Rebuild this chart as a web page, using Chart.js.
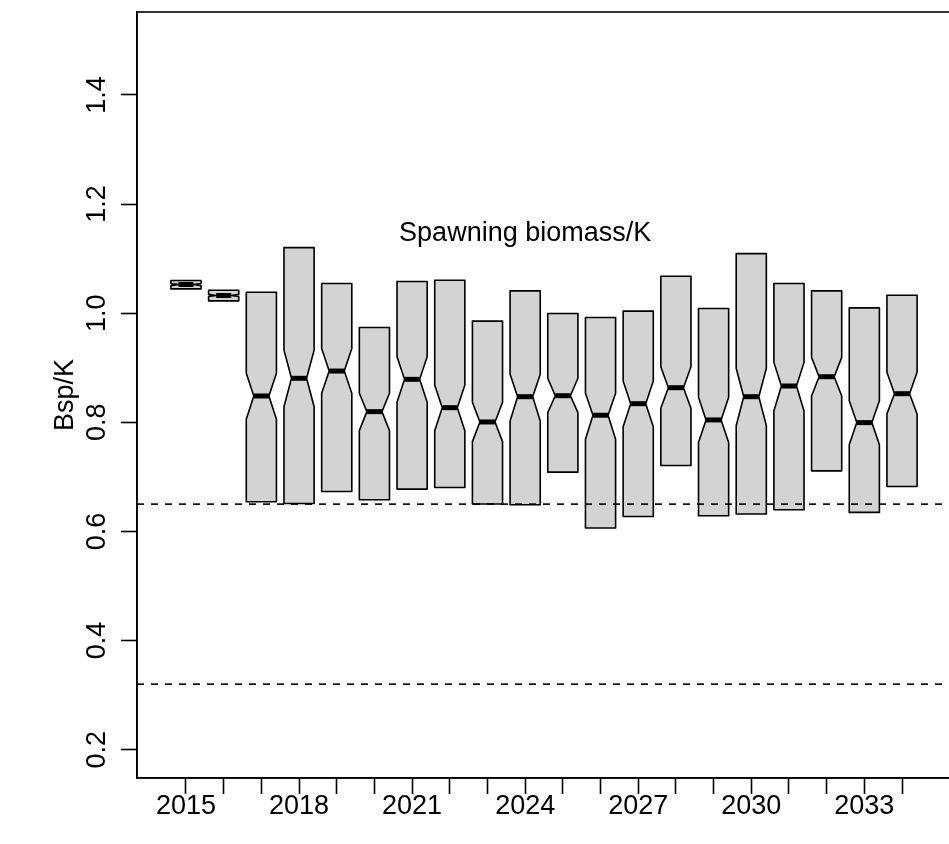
<!DOCTYPE html>
<html><head><meta charset="utf-8">
<script src="https://cdn.jsdelivr.net/npm/chart.js@4/dist/chart.umd.min.js"></script>
<style>html,body{margin:0;padding:0;overflow:hidden;background:#fff}#wrap{width:951px;height:844px}</style>
</head><body><div id="wrap"><canvas id="c" width="951" height="844"></canvas></div>
<script>
const years = [2015,2016,2017,2018,2019,2020,2021,2022,2023,2024,2025,2026,2027,2028,2029,2030,2031,2032,2033,2034];
const boxLow   = [1.0445,1.0225,0.6543,0.6512,0.6732,0.6580,0.6775,0.6805,0.6501,0.6488,0.7086,0.6062,0.6274,0.7207,0.6287,0.6318,0.6397,0.7110,0.6348,0.6823];
const notchLow = [1.0505,1.0304,0.8056,0.8286,0.8531,0.7847,0.8367,0.7847,0.7646,0.8025,0.8177,0.7690,0.7920,0.8257,0.7628,0.7939,0.8208,0.8482,0.7586,0.8153];
const medians  = [1.0525,1.0324,0.8482,0.8806,0.8939,0.8195,0.8787,0.8268,0.8006,0.8469,0.8487,0.8129,0.8341,0.8634,0.8043,0.8469,0.8665,0.8835,0.7994,0.8524];
const notchHigh= [1.0545,1.0344,0.8897,0.9323,0.9354,0.8531,0.9200,0.8683,0.8367,0.8879,0.8806,0.8531,0.8756,0.9018,0.8458,0.8989,0.9098,0.9190,0.8396,0.8915];
const boxHigh  = [1.0600,1.0420,1.0384,1.1202,1.0543,0.9738,1.0580,1.0604,0.9854,1.0408,0.9994,0.9921,1.0037,1.0677,1.0086,1.1092,1.0543,1.0408,1.0097,1.0329];
const yTicks = [0.2,0.4,0.6,0.8,1.0,1.2,1.4];
const yTickLabels = ['0.2','0.4','0.6','0.8','1.0','1.2','1.4'];
const refLines = [0.65, 0.32];
const titleText = 'Spawning biomass/K';
const titlePos = {x: 9, y: 1.15};
const yAxisTitle = 'Bsp/K';

const FONT = "'Liberation Sans', Arial, Helvetica, sans-serif";
const FS = 27;

const rPlot = {
  id: 'rPlot',
  afterDatasetsDraw(chart) {
    const ctx = chart.ctx, xs = chart.scales.x, ys = chart.scales.y, ca = chart.chartArea;
    const half = 0.4 * (xs.getPixelForValue(1) - xs.getPixelForValue(0));
    ctx.save();
    for (let i = 0; i < years.length; i++) {
      const cx = xs.getPixelForValue(i);
      const pts = [[-1,boxLow[i]],[1,boxLow[i]],[1,notchLow[i]],[0.5,medians[i]],[1,notchHigh[i]],[1,boxHigh[i]],[-1,boxHigh[i]],[-1,notchHigh[i]],[-0.5,medians[i]],[-1,notchLow[i]]];
      ctx.beginPath();
      pts.forEach((p, k) => {
        const px = cx + p[0]*half, py = ys.getPixelForValue(p[1]);
        if (k === 0) ctx.moveTo(px, py); else ctx.lineTo(px, py);
      });
      ctx.closePath();
      ctx.fillStyle = '#d3d3d3';
      ctx.fill();
      ctx.lineWidth = 1.6; ctx.strokeStyle = '#000'; ctx.lineJoin = 'round';
      ctx.stroke();
      const my = ys.getPixelForValue(medians[i]);
      ctx.beginPath();
      ctx.moveTo(cx - half*0.5, my); ctx.lineTo(cx + half*0.5, my);
      ctx.lineWidth = 5; ctx.lineCap = 'butt';
      ctx.stroke();
    }
    ctx.setLineDash([7,7]);
    ctx.lineWidth = 1.6;
    refLines.forEach(v => {
      const y = ys.getPixelForValue(v);
      ctx.beginPath(); ctx.moveTo(ca.left, y); ctx.lineTo(ca.right, y); ctx.stroke();
    });
    ctx.setLineDash([]);
    ctx.fillStyle = '#000';
    ctx.font = FS + 'px ' + FONT;
    ctx.textAlign = 'center'; ctx.textBaseline = 'alphabetic';
    ctx.fillText(titleText, xs.getPixelForValue(titlePos.x), ys.getPixelForValue(titlePos.y) + 0.358*FS);
    ctx.restore();
  },
  afterDraw(chart) {
    const ctx = chart.ctx, ys = chart.scales.y, ca = chart.chartArea;
    ctx.save();
    ctx.strokeStyle = '#000'; ctx.lineWidth = 1.6;
    ctx.strokeRect(ca.left, ca.top, ca.right - ca.left, ca.bottom - ca.top);
    ctx.fillStyle = '#000';
    ctx.font = FS + 'px ' + FONT;
    ctx.textAlign = 'center'; ctx.textBaseline = 'alphabetic';
    yTicks.forEach((v, k) => {
      ctx.save();
      ctx.translate(ca.left - 32, ys.getPixelForValue(v));
      ctx.rotate(-Math.PI/2);
      ctx.fillText(yTickLabels[k], 0, 0);
      ctx.restore();
    });
    ctx.save();
    ctx.translate(ca.left - 64, (ca.top + ca.bottom)/2);
    ctx.rotate(-Math.PI/2);
    ctx.fillText(yAxisTitle, 0, 0);
    ctx.restore();
    ctx.restore();
  }
};

new Chart(document.getElementById('c'), {
  type: 'scatter',
  data: { datasets: [{ data: medians.map((m, i) => ({x: i, y: m})), pointRadius: 0, showLine: false }] },
  options: {
    responsive: false, animation: false, devicePixelRatio: 1,
    layout: { padding: { top: 12, left: 0, right: 0, bottom: 0 } },
    plugins: { legend: { display: false }, tooltip: { enabled: false } },
    scales: {
      x: {
        type: 'linear', min: -1.3, max: 20.3,
        afterBuildTicks: s => { s.ticks = years.map((y, i) => ({ value: i })); },
        afterFit: s => { s.height = 66; },
        ticks: {
          autoSkip: false, maxRotation: 0, minRotation: 0, padding: -4, color: '#000',
          font: { family: FONT, size: FS },
          callback: (v, idx) => (idx % 3 === 0 ? String(years[idx]) : '')
        },
        grid: { drawOnChartArea: false, drawTicks: true, tickLength: 16, tickColor: '#000', tickWidth: 1.6 },
        border: { display: true, color: '#000', width: 1.6 }
      },
      y: {
        type: 'linear', min: 0.148, max: 1.552,
        afterBuildTicks: s => { s.ticks = yTicks.map(v => ({ value: v })); },
        afterFit: s => { s.width = 137; },
        ticks: { display: false },
        grid: { drawOnChartArea: false, drawTicks: true, tickLength: 16, tickColor: '#000', tickWidth: 1.6 },
        border: { display: true, color: '#000', width: 1.6 }
      }
    }
  },
  plugins: [rPlot]
});
</script></body></html>
